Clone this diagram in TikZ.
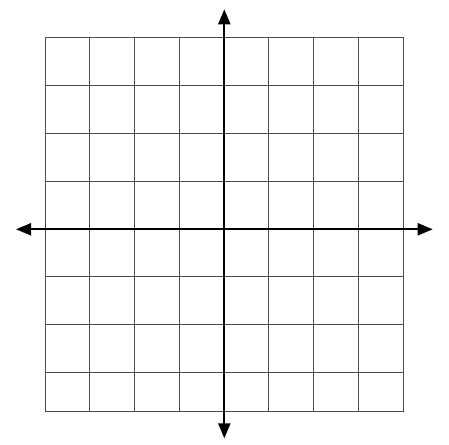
\documentclass[tikz,border=0pt]{standalone}
\usetikzlibrary{arrows.meta}

\begin{document}
\begin{tikzpicture}[x=1pt, y=-1pt, gridline/.style={draw=black!70, line width=1pt}, axis/.style={line width=2.2pt, {Triangle[length=15pt,width=12pt]}-{Triangle[length=15pt,width=12pt]}}]
\useasboundingbox (0,0) rectangle (449,444);
% grid
\foreach \gx in {45,89.7,134.7,179.7,268.7,313.3,358,403.7}
  \draw[gridline] (\gx,38) -- (\gx,411.3);
\foreach \gy in {38,85.7,133.7,181.3,276.7,324.3,372,411.3}
  \draw[gridline] (45,\gy) -- (403.7,\gy);
% axes
\coordinate (xl) at (16,229.3);
\coordinate (xr) at (432.7,229.3);
\coordinate (yt) at (224.3,9.3);
\coordinate (yb) at (224.3,438.3);
\draw[axis] (xl) -- (xr);
\draw[axis] (yb) -- (yt);
\end{tikzpicture}
\end{document}
